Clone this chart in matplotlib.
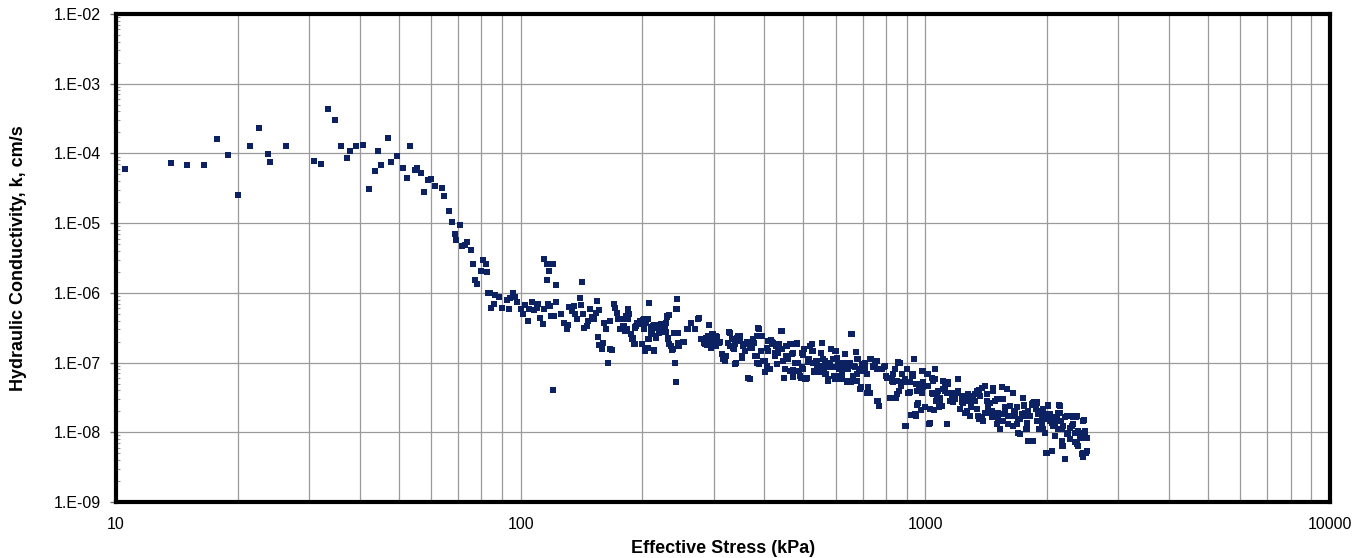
import numpy as np
import matplotlib
matplotlib.use('Agg')
import matplotlib.pyplot as plt
from matplotlib.ticker import LogLocator, FuncFormatter, NullFormatter

plt.rcParams['font.family'] = ['Liberation Sans', 'DejaVu Sans']

# low stress plateau (kPa, cm/s)
stress_low = [10.5, 13.7, 15.0, 16.5, 17.8, 18.9, 20.0, 21.4, 22.6, 23.8, 24.0, 26.3,
              30.9, 32.1, 33.4, 34.7, 35.9, 37.3, 37.8, 39.3, 40.9, 42.2, 43.6, 44.5,
              45.1, 47.0, 47.8, 49.6, 51.2, 52.3, 53.3, 54.7, 55.6, 56.8, 57.6, 59.1,
              60.1, 61.3, 63.9, 64.6]
k_low = [5.9e-5, 7.3e-5, 6.9e-5, 6.9e-5, 1.6e-4, 9.5e-5, 2.5e-5, 1.29e-4, 2.33e-4, 9.7e-5,
         7.6e-5, 1.29e-4, 7.9e-5, 7.1e-5, 4.4e-4, 2.97e-4, 1.26e-4, 8.7e-5, 1.1e-4, 1.29e-4,
         1.33e-4, 3.05e-5, 5.5e-5, 1.1e-4, 6.9e-5, 1.68e-4, 7.5e-5, 9.2e-5, 6.1e-5, 4.4e-5,
         1.29e-4, 5.8e-5, 6.1e-5, 5.2e-5, 2.77e-5, 4.1e-5, 4.3e-5, 3.4e-5, 3.16e-5, 2.48e-5]

# steep drop
stress_drop = [66.4, 67.6, 70.8, 68.7, 69.2, 71.7, 72.9, 73.8, 75.5, 76.4, 80.9, 82.0,
               79.8, 82.4, 77.2, 78.2, 83.2]
k_drop = [1.47e-5, 1.05e-5, 9.5e-6, 6.9e-6, 5.8e-6, 4.7e-6, 4.8e-6, 5.4e-6, 4.1e-6, 2.55e-6,
          3.0e-6, 2.6e-6, 2.07e-6, 2.0e-6, 1.54e-6, 1.35e-6, 1.0e-6]

# 80 - 175 kPa
stress_mid1 = [84.1, 86.4, 88.4, 86.0, 84.5, 89.8, 93.5, 92.3, 94.2, 95.7, 96.8, 97.7,
               100.2, 101.5, 102.6, 104.6, 104.5, 106.9, 108.1, 109.5, 110.2, 111.9, 113.5,
               114.3, 114.3, 116.3, 120.3, 117.5, 116.1, 122.3, 117.0, 118.1, 119.2, 121.1,
               122.5, 120.2, 125.8, 127.9, 130.0, 131.2, 131.6, 133.7, 135.2, 136.2, 138.0,
               140.0, 141.0, 142.0, 142.7, 143.6, 145.8, 146.8, 148.6, 150.3, 152.0, 153.4,
               154.6, 156.3, 155.6, 156.6, 160.0, 159.2, 161.0, 162.6, 164.4, 165.9, 168.0,
               166.5, 170.0, 171.4, 172.7, 174.2]
k_mid1 = [1.0e-6, 9.4e-7, 8.8e-7, 7.0e-7, 6.0e-7, 6.1e-7, 5.8e-7, 7.9e-7, 8.3e-7, 9.8e-7,
          8.7e-7, 7.5e-7, 5.9e-7, 4.9e-7, 6.6e-7, 5.8e-7, 4.0e-7, 7.5e-7, 5.7e-7, 6.0e-7,
          6.8e-7, 4.3e-7, 3.6e-7, 5.8e-7, 3.08e-6, 2.55e-6, 2.55e-6, 2.07e-6, 1.52e-6, 1.3e-6,
          6.8e-7, 6.5e-7, 4.6e-7, 4.7e-7, 7.3e-7, 4.1e-8, 4.9e-7, 3.7e-7, 3.0e-7, 3.4e-7,
          6.3e-7, 5.5e-7, 6.5e-7, 4.9e-7, 4.2e-7, 8.3e-7, 6.7e-7, 1.43e-6, 5.0e-7, 3.1e-7,
          3.3e-7, 4.0e-7, 5.9e-7, 4.5e-7, 4.2e-7, 5.2e-7, 7.7e-7, 5.7e-7, 2.35e-7, 1.77e-7,
          1.9e-7, 1.55e-7, 3.65e-7, 3.0e-7, 1.0e-7, 1.55e-7, 1.5e-7, 4.0e-7, 6.8e-7, 6.0e-7,
          5.2e-7, 4.2e-7]

# 175 - 455 kPa
stress_mid2 = [175.0, 178.6, 184.4, 185.5, 184.1, 179.2, 180.7, 176.1, 188.8, 190.4, 187.9,
               191.5, 193.3, 196.9, 198.9, 201.8, 206.5, 201.8, 199.6, 202.8, 205.9, 207.9,
               207.9, 210.5, 210.5, 213.8, 215.8, 214.1, 220.0, 224.2, 220.0, 225.0, 222.8,
               227.1, 230.2, 231.5, 228.6, 233.3, 237.1, 240.4, 242.7, 242.7, 243.6, 240.4,
               245.0, 246.5, 253.1, 258.4, 264.4, 270.4, 275.4, 279.8, 285.1, 292.4, 287.9,
               293.1, 299.2, 303.5, 304.8, 296.0, 311.7, 317.7, 320.6, 326.7, 329.8, 336.0,
               339.3, 342.4, 349.0, 352.4, 355.6, 363.1, 368.1, 369.4, 376.5, 383.7, 387.3,
               389.3, 394.6, 401.9, 405.8, 409.5, 413.3, 417.2, 421.1, 425.1, 433.3, 441.6,
               445.6, 447.1, 453.9]
k_mid2 = [4.27e-7, 4.2e-7, 5.8e-7, 4.9e-7, 4.2e-7, 3.3e-7, 2.83e-7, 3.0e-7, 2.2e-7, 1.83e-7,
          2.55e-7, 3.2e-7, 3.3e-7, 3.7e-7, 4.0e-7, 4.2e-7, 4.2e-7, 3.0e-7, 1.83e-7, 1.47e-7,
          1.64e-7, 7.1e-7, 2.2e-7, 2.55e-7, 3.2e-7, 3.5e-7, 2.28e-7, 1.5e-7, 3.5e-7, 3.5e-7,
          2.7e-7, 2.7e-7, 3.0e-7, 3.3e-7, 4.5e-7, 2.2e-7, 2.7e-7, 1.83e-7, 1.5e-7, 1.0e-7,
          5.2e-8, 5.8e-7, 8.1e-7, 2.63e-7, 2.63e-7, 1.73e-7, 2.0e-7, 3.0e-7, 3.7e-7, 3.0e-7,
          4.3e-7, 2.16e-7, 1.83e-7, 3.5e-7, 2.28e-7, 2.0e-7, 2.55e-7, 2.42e-7, 1.73e-7, 1.64e-7,
          2.0e-7, 1.24e-7, 1.05e-7, 2.7e-7, 1.73e-7, 1.55e-7, 9.5e-8, 2.28e-7, 2.42e-7, 1.24e-7,
          1.83e-7, 2.0e-7, 5.8e-8, 1.64e-7, 1.93e-7, 1.24e-7, 9.5e-8, 3.07e-7, 2.42e-7, 1.05e-7,
          8.9e-8, 1.47e-7, 8.0e-8, 2.0e-7, 1.83e-7, 1.24e-7, 1.55e-7, 2.83e-7, 1.05e-7, 6.0e-8,
          1.73e-7]

# 455 - 1140 kPa
stress_high1 = [455.8, 462.8, 471.7, 480.7, 467.2, 462.8, 470.0, 476.2, 485.3, 471.7, 489.9,
                488.0, 494.6, 499.3, 501.2, 507.0, 513.7, 516.6, 523.5, 526.5, 531.5, 538.6,
                540.7, 543.7, 551.1, 554.2, 557.4, 564.9, 568.1, 575.7, 579.0, 584.5, 592.3,
                598.0, 598.0, 609.4, 612.9, 621.1, 627.0, 633.0, 639.0, 645.1, 651.3, 655.0,
                661.2, 670.0, 673.9, 679.0, 682.9, 689.4, 693.4, 700.0, 709.3, 718.8, 722.9,
                716.1, 729.8, 729.8, 741.0, 750.9, 758.1, 762.4, 769.7, 780.0, 794.9, 802.5,
                817.9, 825.7, 833.5, 846.3, 852.7, 857.6, 862.5, 869.0, 874.0, 890.8, 899.3,
                907.8, 913.0, 920.0, 925.2, 934.1, 939.4, 948.4, 952.0, 955.6, 966.5, 973.9,
                985.0, 988.8, 998.2, 1007.7, 1017.3, 1023.1, 1036.9, 1042.8, 1050.7, 1056.7,
                1066.8, 1077.0, 1087.2, 1097.6, 1108.0, 1118.6, 1129.0, 1139.8]
k_high1 = [1.73e-7, 1.87e-7, 1.87e-7, 1.87e-7, 1.34e-7, 7.6e-8, 7.8e-8, 1.0e-7, 9.8e-8, 6.4e-8,
           6.4e-8, 7.6e-8, 8.5e-8, 1.39e-7, 1.55e-7, 5.8e-8, 1.02e-7, 1.11e-7, 1.83e-7, 1.47e-7,
           7.6e-8, 1.06e-7, 7.2e-8, 8.5e-8, 1.39e-7, 1.93e-7, 1.11e-7, 1.06e-7, 6.8e-8, 5.8e-8,
           1.0e-7, 1.55e-7, 8.5e-8, 1.47e-7, 5.8e-8, 9.5e-8, 6.4e-8, 5.8e-8, 8.2e-8, 1.32e-7,
           1.0e-7, 5.5e-8, 1.0e-7, 2.54e-7, 5.8e-8, 8.5e-8, 1.42e-7, 6.8e-8, 1.11e-7, 4.2e-8,
           8.0e-8, 9.5e-8, 8.0e-8, 6.8e-8, 4.4e-8, 3.6e-8, 3.6e-8, 1.11e-7, 9.0e-8, 1.0e-7,
           1.06e-7, 2.8e-8, 2.4e-8, 8.0e-8, 9.0e-8, 6.1e-8, 3.15e-8, 5.5e-8, 6.8e-8, 3.15e-8,
           5.5e-8, 1.02e-7, 3.9e-8, 4.6e-8, 6.8e-8, 1.24e-8, 8.2e-8, 5.2e-8, 3.7e-8, 1.76e-8,
           6.8e-8, 6.4e-8, 1.14e-7, 1.69e-8, 4.9e-8, 2.5e-8, 4.9e-8, 2.1e-8, 7.6e-8, 4.4e-8,
           2.3e-8, 6.8e-8, 4.6e-8, 1.31e-8, 6.1e-8, 3.5e-8, 2.1e-8, 5.8e-8, 3.3e-8, 3.9e-8,
           2.8e-8, 2.4e-8, 5.5e-8, 3.9e-8, 1.31e-8, 4.9e-8]

# 1140 - 2520 kPa
stress_high2 = [1161, 1172, 1183, 1206, 1206, 1218, 1229, 1241, 1253, 1265, 1277, 1289, 1301,
                1314, 1326, 1339, 1351, 1360, 1377, 1391, 1404, 1417, 1431, 1445, 1458, 1472,
                1486, 1500, 1515, 1529, 1544, 1553, 1558, 1573, 1588, 1603, 1619, 1634, 1650,
                1665, 1681, 1697, 1713, 1740, 1753, 1763, 1773, 1786, 1797, 1814, 1831, 1849,
                1860, 1884, 1884, 1913, 1920, 1939, 1957, 1976, 1987, 2013, 2033, 2052, 2072,
                2092, 2112, 2131, 2144, 2152, 2172, 2193, 2214, 2235, 2256, 2278, 2300, 2321,
                2344, 2366, 2389, 2411, 2434, 2457, 2467, 2481, 2495, 2457, 2505]
k_high2 = [3.3e-8, 2.7e-8, 3.7e-8, 5.9e-8, 3.9e-8, 2.15e-8, 2.7e-8, 3.3e-8, 2.8e-8, 2.0e-8,
           3.5e-8, 2.8e-8, 3.3e-8, 3.0e-8, 3.5e-8, 2.15e-8, 3.7e-8, 4.1e-8, 1.63e-8, 1.46e-8,
           4.6e-8, 2.8e-8, 2.4e-8, 1.92e-8, 1.63e-8, 3.9e-8, 2.8e-8, 1.31e-8, 1.92e-8, 1.11e-8,
           4.5e-8, 3.0e-8, 1.46e-8, 1.92e-8, 4.2e-8, 1.31e-8, 2.4e-8, 1.72e-8, 3.7e-8, 1.92e-8,
           1.31e-8, 9.9e-9, 1.54e-8, 3.05e-8, 2.5e-8, 1.92e-8, 1.11e-8, 1.38e-8, 7.6e-9, 1.72e-8,
           2.5e-8, 7.6e-9, 2.7e-8, 2.7e-8, 1.46e-8, 1.11e-8, 1.82e-8, 1.38e-8, 1.11e-8, 9.9e-9,
           5.1e-9, 2.45e-8, 1.46e-8, 5.4e-9, 1.24e-8, 8.9e-9, 1.54e-8, 1.11e-8, 2.45e-8, 1.92e-8,
           7.6e-9, 6.4e-9, 4.2e-9, 9.4e-9, 1.72e-8, 8.0e-9, 1.24e-8, 1.63e-8, 7.2e-9, 1.72e-8,
           6.4e-9, 9.9e-9, 8.4e-9, 5.1e-9, 1.51e-8, 1.05e-8, 8.4e-9, 4.4e-9, 5.4e-9]

# extra readings in the dense band, 175 - 860 kPa
stress_dense1 = [177.7, 180.0, 182.1, 184.6, 185.6, 178.7, 182.8, 189.1, 191.3, 191.7, 193.5,
                 195.3, 197.2, 200.2, 201.7, 204.1, 199.1, 202.9, 204.9, 208.0, 206.8, 209.5,
                 210.7, 212.8, 214.0, 216.0, 217.7, 220.1, 221.8, 224.4, 226.1, 228.7, 230.4,
                 233.1, 231.8, 234.9, 237.5, 239.4, 243.0, 244.0, 244.0, 245.3, 240.7, 252.4,
                 259.7, 263.2, 269.7, 274.9, 280.2, 283.9, 288.3, 292.7, 291.0, 296.6, 299.5,
                 302.3, 306.4, 309.8, 314.0, 317.0, 320.0, 321.8, 326.1, 329.2, 332.4, 334.3,
                 338.9, 340.7, 345.2, 348.5, 351.8, 355.2, 358.6, 362.0, 365.5, 369.0, 372.5,
                 376.0, 379.6, 383.2, 386.9, 384.7]
k_dense1 = [4.17e-7, 3.34e-7, 4.65e-7, 5.67e-7, 4.91e-7, 3.0e-7, 3.06e-7, 2.28e-7, 1.83e-7,
            3.17e-7, 3.73e-7, 3.53e-7, 3.94e-7, 4.08e-7, 3.0e-7, 3.73e-7, 1.83e-7, 1.55e-7,
            1.64e-7, 7.06e-7, 2.15e-7, 3.17e-7, 2.69e-7, 3.34e-7, 1.47e-7, 2.41e-7, 3.17e-7,
            2.69e-7, 3.53e-7, 2.84e-7, 3.06e-7, 3.73e-7, 4.65e-7, 4.75e-7, 2.28e-7, 1.73e-7,
            1.55e-7, 2.69e-7, 2.69e-7, 8.2e-7, 5.8e-7, 1.93e-7, 1.0e-7, 1.97e-7, 3.0e-7,
            3.73e-7, 3.0e-7, 4.26e-7, 2.15e-7, 1.93e-7, 1.77e-7, 3.42e-7, 2.41e-7, 2.54e-7,
            2.15e-7, 1.83e-7, 2.35e-7, 1.93e-7, 1.31e-7, 1.12e-7, 1.06e-7, 1.24e-7, 1.93e-7,
            2.69e-7, 2.15e-7, 1.64e-7, 1.83e-7, 1.0e-7, 2.41e-7, 2.04e-7, 1.18e-7, 1.73e-7,
            1.47e-7, 1.83e-7, 6.1e-8, 1.93e-7, 1.64e-7, 2.15e-7, 1.24e-7, 1.0e-7, 3.17e-7,
            2.41e-7]

stress_dense2 = [393.9, 391.7, 397.7, 401.5, 405.3, 409.2, 414.6, 417.0, 420.9, 425.0, 427.3,
                 433.1, 430.6, 435.5, 438.9, 441.4, 445.6, 449.9, 452.5, 454.2, 458.4, 462.8,
                 467.2, 469.9, 471.7, 476.2, 480.7, 482.6, 488.1, 491.8, 494.7, 497.5, 499.4,
                 504.1, 508.9, 513.8, 518.7, 523.7, 526.6, 530.7, 536.7, 540.9, 547.0, 551.2,
                 554.3, 557.5, 561.8, 564.9, 570.3, 575.7, 581.2, 583.5, 590.1, 594.6, 601.4,
                 606.0, 613.0, 617.6, 621.2, 627.1, 633.1, 639.1, 645.2, 648.9, 653.9, 657.6,
                 661.3, 666.4, 674.0, 676.6, 679.3, 686.9, 692.1, 696.1, 702.7, 709.5, 716.2,
                 723.0, 723.0, 732.7, 741.1, 751.4, 758.5, 761.0, 769.7, 780.0, 790.4, 799.5,
                 810.2, 818.0, 825.8, 833.7, 841.7, 849.6, 857.7]
k_dense2 = [2.40e-7, 1.47e-7, 1.06e-7, 7.2e-8, 1.64e-7, 2.04e-7, 2.11e-7, 1.83e-7, 1.93e-7,
            1.39e-7, 1.73e-7, 1.39e-7, 9.5e-8, 1.83e-7, 2.84e-7, 1.55e-7, 1.06e-7, 8.0e-8,
            1.24e-7, 1.73e-7, 1.12e-7, 7.6e-8, 1.83e-7, 1.39e-7, 6.3e-8, 1.0e-7, 1.89e-7,
            1.0e-7, 7.6e-8, 6.1e-8, 1.39e-7, 8.0e-8, 1.27e-7, 5.8e-8, 6.1e-8, 1.06e-7, 1.73e-7,
            1.47e-7, 1.0e-7, 7.2e-8, 1.06e-7, 8.0e-8, 7.2e-8, 1.39e-7, 1.93e-7, 8.95e-8,
            7.6e-8, 6.8e-8, 8.5e-8, 5.5e-8, 1.0e-7, 1.55e-7, 1.12e-7, 6.4e-8, 1.47e-7, 1.18e-7,
            8.0e-8, 5.8e-8, 6.8e-8, 1.0e-7, 1.31e-7, 5.3e-8, 8.0e-8, 1.0e-7, 5.2e-8, 2.54e-7,
            6.4e-8, 8.95e-8, 1.42e-7, 5.5e-8, 1.12e-7, 8.0e-8, 4.4e-8, 9.5e-8, 7.6e-8, 1.0e-7,
            6.8e-8, 3.7e-8, 4.4e-8, 1.12e-7, 8.5e-8, 1.0e-7, 8.0e-8, 2.83e-8, 2.4e-8, 8.0e-8,
            8.5e-8, 6.4e-8, 6.1e-8, 3.15e-8, 6.1e-8, 5.2e-8, 8.0e-8, 3.5e-8, 1.0e-7]

# extra readings in the dense band, 860 - 2500 kPa
stress_dense3 = [865, 873.5, 890.4, 898.8, 907.4, 916.0, 924.8, 937.0, 933.5, 947.7, 955.0,
                 960.4, 965.9, 978.8, 978.8, 988.2, 997.6, 1007, 1017, 1026, 1036, 1046, 1056,
                 1062, 1070, 1082, 1087, 1103, 1107, 1118, 1129, 1139, 1150, 1161, 1172, 1183,
                 1195, 1206, 1217, 1229, 1241, 1253, 1265, 1277, 1289, 1294, 1309, 1326, 1339,
                 1352, 1365, 1378, 1391, 1404, 1417, 1431, 1444, 1458, 1472, 1486, 1500, 1515,
                 916, 942.3, 895.4, 1030, 1129, 1360, 1500]
k_dense3 = [1.0e-7, 5.2e-8, 5.8e-8, 8.2e-8, 3.7e-8, 5.2e-8, 6.4e-8, 1.14e-7, 6.8e-8, 4.9e-8,
            3.9e-8, 2.67e-8, 4.6e-8, 7.6e-8, 3.7e-8, 5.2e-8, 2.27e-8, 4.6e-8, 6.8e-8, 2.15e-8,
            3.7e-8, 5.5e-8, 8.0e-8, 2.82e-8, 3.7e-8, 2.27e-8, 3.15e-8, 5.5e-8, 4.15e-8, 4.6e-8,
            3.7e-8, 5.2e-8, 2.82e-8, 3.33e-8, 3.7e-8, 2.98e-8, 3.7e-8, 5.8e-8, 2.15e-8, 3.33e-8,
            2.67e-8, 1.92e-8, 3.15e-8, 3.52e-8, 1.72e-8, 2.27e-8, 3.33e-8, 2.82e-8, 3.93e-8,
            1.72e-8, 3.33e-8, 4.38e-8, 1.46e-8, 1.92e-8, 3.52e-8, 2.27e-8, 2.67e-8, 2.03e-8,
            4.38e-8, 1.63e-8, 2.98e-8, 1.54e-8, 3.8e-8, 1.82e-8, 1.24e-8, 1.35e-8, 1.31e-8,
            1.54e-8, 1.31e-8]

stress_dense4 = [1544, 1588, 1649, 1552, 1740, 1573, 1619, 1656, 1681, 1558, 1603, 1643, 1697,
                 1730, 1753, 1763, 1796, 1831, 1848, 1884, 1877, 1902, 1920, 1938, 1957, 1975,
                 1994, 2013, 2033, 2052, 2072, 2091, 2111, 2131, 2151, 2160, 2172, 2193, 2214,
                 2235, 2256, 2278, 2300, 2321, 2343, 2357, 2388, 2411, 2457, 2481, 2504, 1649,
                 1714, 1779, 1848, 1796, 1994, 2052, 2172, 2214, 2434, 2495, 2457, 2278, 2366]
k_dense4 = [4.4e-8, 4.15e-8, 3.7e-8, 2.98e-8, 3.08e-8, 2.27e-8, 2.4e-8, 2.03e-8, 2.27e-8,
            1.82e-8, 1.72e-8, 1.72e-8, 1.54e-8, 1.82e-8, 2.4e-8, 1.72e-8, 2.03e-8, 2.53e-8,
            2.59e-8, 2.67e-8, 2.15e-8, 1.82e-8, 2.03e-8, 1.54e-8, 2.15e-8, 1.82e-8, 1.54e-8,
            2.4e-8, 1.82e-8, 1.38e-8, 1.63e-8, 1.24e-8, 1.46e-8, 1.92e-8, 2.4e-8, 1.46e-8,
            1.11e-8, 1.24e-8, 1.63e-8, 1.72e-8, 9.9e-9, 1.17e-8, 1.72e-8, 1.31e-8, 9.9e-9,
            1.63e-8, 1.05e-8, 8.4e-9, 1.46e-8, 9.9e-9, 8.4e-9, 1.24e-8, 9.4e-9, 1.11e-8, 7.6e-9,
            7.6e-9, 5.1e-9, 5.3e-9, 6.4e-9, 4.1e-9, 4.9e-9, 5.1e-9, 4.4e-9, 8.0e-9, 6.8e-9]

stress = np.concatenate([stress_low, stress_drop, stress_mid1, stress_mid2, stress_high1,
                         stress_high2, stress_dense1, stress_dense2, stress_dense3, stress_dense4])
k = np.concatenate([k_low, k_drop, k_mid1, k_mid2, k_high1, k_high2,
                    k_dense1, k_dense2, k_dense3, k_dense4])

fig = plt.figure(figsize=(13.56, 5.58), dpi=100)
ax = fig.add_axes([0.0855, 0.1004, 0.8953, 0.8746])

ax.plot(stress, k, 's', color='#0B2162', markersize=4, markeredgewidth=0)

ax.set_xscale('log')
ax.set_yscale('log')
ax.set_xlim(10, 10000)
ax.set_ylim(1e-9, 1e-2)

ax.yaxis.set_major_locator(LogLocator(base=10, numticks=20))
ax.yaxis.set_minor_locator(LogLocator(base=10, subs=np.arange(2, 10), numticks=20))
ax.yaxis.set_major_formatter(FuncFormatter(lambda v, p: '1.E-%02d' % round(-np.log10(v))))
ax.yaxis.set_minor_formatter(NullFormatter())
ax.xaxis.set_major_formatter(FuncFormatter(lambda v, p: '%d' % v))
ax.xaxis.set_minor_formatter(NullFormatter())

ax.grid(which='major', axis='both', color='#9a9a9a', linewidth=0.9)
ax.grid(which='minor', axis='x', color='#9a9a9a', linewidth=0.9)
ax.set_axisbelow(True)

ax.tick_params(axis='y', which='major', direction='out', length=4, width=1, color='#777777',
               labelsize=11.5, pad=7)
ax.tick_params(axis='y', which='minor', direction='in', length=3, width=0.8, color='#999999')
ax.tick_params(axis='x', which='both', length=0, labelsize=11.5, pad=11)

for s in ax.spines.values():
    s.set_linewidth(3)
    s.set_color('black')

ax.set_xlabel('Effective Stress (kPa)', fontsize=13, fontweight='bold')
ax.set_ylabel('Hydraulic Conductivity, k, cm/s', fontsize=13, fontweight='bold')
ax.xaxis.set_label_coords(0.5, -0.077)
ax.yaxis.set_label_coords(-0.073, 0.5)

fig.savefig('out.png', dpi=100)
